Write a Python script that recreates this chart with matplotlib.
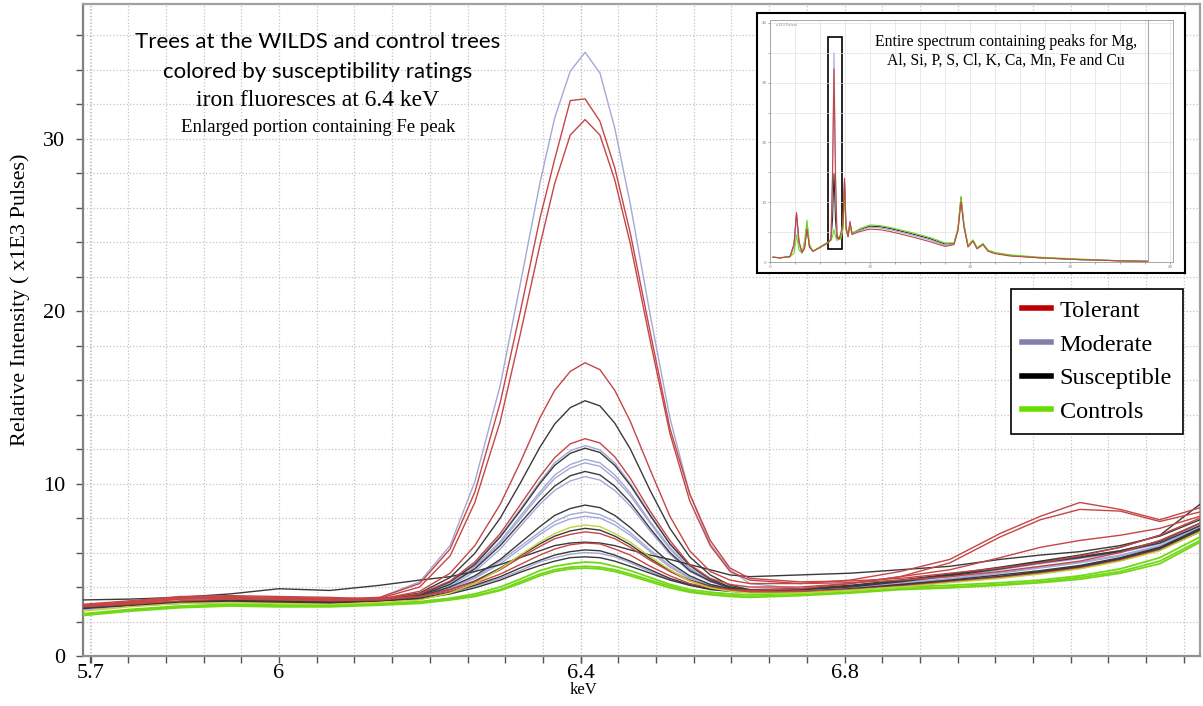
import numpy as np
import matplotlib
matplotlib.use("Agg")
import matplotlib.pyplot as plt
from matplotlib.lines import Line2D
from matplotlib.patches import Rectangle
from matplotlib.ticker import MultipleLocator, FixedLocator

# energy grid of the enlarged view (keV, as the axis labels read it)
kev = [5.723, 5.789, 5.860, 5.931, 6.000, 6.072, 6.143, 6.199, 6.242, 6.277,
       6.313, 6.341, 6.369, 6.390, 6.412, 6.433, 6.454, 6.475, 6.497, 6.525,
       6.553, 6.581, 6.610, 6.638, 6.666, 6.737, 6.808, 6.879, 6.949, 7.020,
       7.077, 7.133, 7.190, 7.246, 7.303]

# Tolerant trees (x1E3 pulses)
tol_1 = [2.95, 3.1, 3.35, 3.4, 3.35, 3.3, 3.4, 4.2, 6.2, 9.5, 14.7, 19.9, 25.35, 28.8, 32.2, 32.3, 31.0, 28.3, 24.5,
         18.8, 13.2, 9.4, 6.7, 5.1, 4.5, 4.3, 4.35, 4.5, 4.8, 5.1, 5.4, 5.8, 6.3, 7.0, 8.0]
tol_2 = [2.9, 3.05, 3.3, 3.35, 3.3, 3.25, 3.35, 4.0, 5.8, 8.9, 13.6, 18.6, 23.8, 27.4, 30.2, 31.1, 30.2, 27.6, 23.9,
         18.3, 12.9, 9.0, 6.4, 4.9, 4.4, 4.2, 4.25, 4.4, 4.6, 4.9, 5.2, 5.5, 6.0, 6.7, 7.7]
tol_3 = [2.95, 3.15, 3.4, 3.45, 3.4, 3.35, 3.3, 3.75, 4.8, 6.4, 8.8, 11.2, 13.8, 15.4, 16.5, 17.0, 16.6, 15.4, 13.6,
         10.8, 8.1, 6.1, 4.9, 4.4, 4.2, 4.2, 4.4, 4.9, 5.6, 7.1, 8.1, 8.9, 8.5, 7.9, 8.6]
tol_4 = [3.0, 3.2, 3.45, 3.5, 3.45, 3.4, 3.3, 3.6, 4.35, 5.45, 7.1, 8.75, 10.4, 11.5, 12.3, 12.6, 12.35, 11.55, 10.3,
         8.4, 6.7, 5.3, 4.5, 4.15, 4.0, 4.0, 4.2, 4.6, 5.4, 6.9, 7.9, 8.5, 8.4, 7.8, 8.35]
tol_5 = [2.9, 3.05, 3.3, 3.35, 3.3, 3.3, 3.3, 3.45, 3.85, 4.3, 5.0, 5.7, 6.35, 6.8, 7.05, 7.2, 7.1, 6.8, 6.3,
         5.55, 4.9, 4.35, 4.0, 3.85, 3.8, 3.9, 4.2, 4.6, 5.0, 5.7, 6.3, 6.7, 7.0, 7.4, 8.1]
tol_6 = [2.85, 3.0, 3.2, 3.3, 3.25, 3.2, 3.25, 3.45, 3.75, 4.2, 4.75, 5.3, 5.85, 6.2, 6.45, 6.55, 6.5, 6.2, 5.85,
         5.2, 4.65, 4.2, 3.95, 3.8, 3.75, 3.75, 3.85, 4.05, 4.3, 4.55, 4.8, 5.1, 5.55, 6.15, 7.2]

# Moderate trees
mod_1 = [2.8, 3.0, 3.15, 3.2, 3.15, 3.15, 3.4, 4.3, 6.4, 10.1, 15.7, 21.5, 27.4, 31.2, 33.9, 35.0, 33.8, 30.6, 26.2,
         19.8, 13.8, 9.4, 6.5, 5.0, 4.2, 3.9, 4.05, 4.35, 4.7, 5.1, 5.45, 5.75, 6.1, 6.6, 7.6]
mod_2 = [2.75, 2.95, 3.1, 3.15, 3.1, 3.1, 3.3, 3.55, 4.3, 5.35, 6.95, 8.5, 10.1, 11.2, 11.9, 12.2, 11.95, 11.2, 10.0,
         8.2, 6.5, 5.25, 4.45, 4.0, 3.8, 3.85, 4.0, 4.3, 4.65, 5.05, 5.4, 5.7, 6.05, 6.55, 7.5]
mod_3 = [2.8, 2.95, 3.1, 3.2, 3.15, 3.1, 3.3, 3.55, 4.2, 5.2, 6.65, 8.1, 9.5, 10.5, 11.1, 11.4, 11.2, 10.5, 9.45,
         7.8, 6.3, 5.1, 4.4, 4.0, 3.8, 3.8, 3.95, 4.25, 4.6, 5.0, 5.35, 5.65, 6.0, 6.5, 7.45]
mod_4 = [2.75, 2.9, 3.05, 3.15, 3.1, 3.1, 3.25, 3.5, 4.15, 5.1, 6.55, 7.95, 9.35, 10.3, 10.9, 11.2, 11.0, 10.3, 9.3,
         7.7, 6.2, 5.05, 4.35, 3.95, 3.8, 3.75, 3.9, 4.1, 4.4, 4.65, 4.9, 5.2, 5.65, 6.25, 7.3]
mod_5 = [2.8, 3.0, 3.1, 3.2, 3.15, 3.15, 3.25, 3.45, 4.05, 4.9, 6.2, 7.5, 8.8, 9.6, 10.15, 10.4, 10.2, 9.6, 8.7,
         7.25, 5.9, 4.9, 4.3, 3.95, 3.8, 3.85, 4.0, 4.3, 4.7, 5.1, 5.45, 5.75, 6.1, 6.6, 7.6]
mod_6 = [2.7, 2.9, 3.05, 3.1, 3.05, 3.05, 3.25, 3.4, 3.95, 4.55, 5.5, 6.35, 7.2, 7.8, 8.2, 8.35, 8.2, 7.8, 7.15,
         6.15, 5.25, 4.55, 4.15, 3.9, 3.8, 3.8, 3.95, 4.2, 4.5, 4.85, 5.15, 5.45, 5.85, 6.4, 7.4]
mod_7 = [2.75, 2.9, 3.05, 3.15, 3.1, 3.1, 3.2, 3.4, 3.9, 4.5, 5.35, 6.2, 7.05, 7.6, 7.95, 8.1, 8.0, 7.6, 7.0,
         6.05, 5.15, 4.5, 4.1, 3.85, 3.75, 3.75, 3.9, 4.15, 4.45, 4.8, 5.1, 5.4, 5.8, 6.35, 7.35]
mod_8 = [2.7, 2.9, 3.05, 3.1, 3.1, 3.05, 3.2, 3.35, 3.65, 4.05, 4.5, 4.95, 5.45, 5.7, 5.9, 6.0, 5.95, 5.75, 5.4,
         4.9, 4.45, 4.1, 3.9, 3.75, 3.7, 3.7, 3.85, 4.05, 4.3, 4.6, 4.85, 5.15, 5.6, 6.2, 7.25]

# Susceptible trees
sus_1 = [2.8, 3.0, 3.15, 3.2, 3.15, 3.15, 3.3, 3.65, 4.55, 5.95, 8.0, 10.0, 12.1, 13.45, 14.4, 14.8, 14.5, 13.5, 12.0,
         9.6, 7.4, 5.75, 4.7, 4.1, 3.85, 3.9, 4.1, 4.4, 4.75, 5.15, 5.5, 5.85, 6.3, 7.0, 8.8]
sus_2 = [2.85, 3.0, 3.15, 3.25, 3.2, 3.15, 3.3, 3.55, 4.3, 5.3, 6.9, 8.4, 10.0, 11.05, 11.75, 12.05, 11.8, 11.05, 9.9,
         8.15, 6.5, 5.25, 4.45, 4.0, 3.8, 3.85, 4.05, 4.35, 4.7, 5.1, 5.45, 5.75, 6.1, 6.65, 7.7]
sus_3 = [2.8, 2.95, 3.1, 3.2, 3.15, 3.1, 3.25, 3.5, 4.15, 5.05, 6.4, 7.7, 9.0, 9.85, 10.45, 10.7, 10.5, 9.85, 8.9,
         7.4, 6.0, 4.95, 4.35, 3.95, 3.8, 3.85, 4.0, 4.3, 4.65, 5.05, 5.4, 5.7, 6.05, 6.55, 7.55]
sus_4 = [2.85, 3.0, 3.15, 3.2, 3.2, 3.15, 3.25, 3.45, 4.0, 4.65, 5.6, 6.55, 7.5, 8.15, 8.55, 8.75, 8.6, 8.15, 7.45,
         6.4, 5.4, 4.65, 4.15, 3.9, 3.8, 3.75, 3.9, 4.15, 4.4, 4.7, 4.95, 5.25, 5.7, 6.3, 7.4]
sus_5 = [2.8, 2.95, 3.1, 3.15, 3.15, 3.1, 3.25, 3.45, 3.85, 4.35, 5.1, 5.8, 6.5, 6.95, 7.25, 7.4, 7.3, 6.95, 6.45,
         5.65, 4.95, 4.4, 4.05, 3.85, 3.75, 3.7, 3.85, 4.1, 4.35, 4.6, 4.85, 5.15, 5.6, 6.2, 7.3]
sus_6 = [3.25, 3.3, 3.4, 3.6, 3.9, 3.8, 4.1, 4.4, 4.6, 4.9, 5.3, 5.7, 6.1, 6.4, 6.55, 6.6, 6.55, 6.4, 6.15,
         5.85, 5.6, 5.3, 5.0, 4.7, 4.6, 4.7, 4.8, 5.0, 5.2, 5.6, 5.85, 6.05, 6.4, 6.95, 7.9]
sus_7 = [2.75, 2.95, 3.1, 3.15, 3.1, 3.1, 3.2, 3.35, 3.7, 4.1, 4.6, 5.1, 5.55, 5.85, 6.05, 6.15, 6.1, 5.85, 5.5,
         5.0, 4.5, 4.15, 3.9, 3.8, 3.7, 3.7, 3.85, 4.05, 4.3, 4.55, 4.8, 5.1, 5.55, 6.15, 7.2]
sus_8 = [2.8, 2.95, 3.1, 3.15, 3.1, 3.05, 3.2, 3.3, 3.6, 3.95, 4.4, 4.85, 5.25, 5.5, 5.7, 5.75, 5.7, 5.5, 5.2,
         4.8, 4.4, 4.1, 3.85, 3.75, 3.7, 3.7, 3.85, 4.05, 4.3, 4.6, 4.9, 5.2, 5.65, 6.25, 7.35]

# Control trees
con_1 = [2.6, 2.85, 3.05, 3.1, 3.05, 3.0, 3.1, 3.25, 3.65, 4.2, 5.05, 5.85, 6.6, 7.1, 7.45, 7.6, 7.5, 7.1, 6.6,
         5.75, 5.0, 4.35, 3.95, 3.75, 3.65, 3.65, 3.8, 4.0, 4.25, 4.5, 4.75, 5.05, 5.5, 6.1, 7.2]
con_2 = [2.45, 2.7, 2.9, 3.0, 2.95, 2.95, 3.05, 3.15, 3.35, 3.6, 4.0, 4.45, 4.95, 5.2, 5.35, 5.45, 5.4, 5.2, 4.95,
         4.55, 4.15, 3.85, 3.7, 3.6, 3.55, 3.65, 3.8, 4.0, 4.1, 4.25, 4.4, 4.65, 5.05, 5.7, 6.9]
con_3 = [2.4, 2.65, 2.85, 2.95, 2.9, 2.9, 3.0, 3.1, 3.3, 3.5, 3.85, 4.3, 4.75, 5.0, 5.15, 5.2, 5.15, 5.0, 4.75,
         4.4, 4.05, 3.75, 3.6, 3.5, 3.45, 3.55, 3.7, 3.9, 4.0, 4.15, 4.3, 4.55, 4.9, 5.5, 6.7]
con_4 = [2.35, 2.6, 2.8, 2.9, 2.85, 2.85, 2.95, 3.05, 3.25, 3.45, 3.8, 4.2, 4.65, 4.9, 5.05, 5.1, 5.05, 4.9, 4.65,
         4.3, 3.95, 3.7, 3.55, 3.45, 3.4, 3.5, 3.65, 3.85, 3.95, 4.1, 4.25, 4.45, 4.8, 5.35, 6.6]

tolerant = [tol_1, tol_2, tol_3, tol_4, tol_5, tol_6]
moderate = [mod_1, mod_2, mod_3, mod_4, mod_5, mod_6, mod_7, mod_8]
susceptible = [sus_1, sus_2, sus_3, sus_4, sus_5, sus_6, sus_7, sus_8]
controls = [con_2, con_3, con_4]
controls_yellow = [con_1]

# axis labels as printed
xtick_pos = [5.733, 6.0, 6.427, 6.8]
xtick_labels = ["5.7", "6", "6.4", "6.8"]
ytick_pos = [0, 10, 20, 30]

# whole spectrum shown in the inset (keV, x1E3 pulses)
in_kev = [0.3, 1.0, 2.0, 2.4, 2.65, 2.9, 3.2, 3.45, 3.7, 3.95, 4.3, 5.0, 5.8, 6.1, 6.25, 6.4, 6.55, 6.7,
          6.9, 7.1, 7.3, 7.45, 7.6, 7.8, 8.0, 8.2, 8.5, 9.0, 10.0, 11.0, 12.0, 14.0, 16.0, 17.5, 18.4,
          18.8, 19.1, 19.4, 19.8, 20.3, 20.7, 21.3, 21.8, 22.5, 24.0, 27.0, 31.0, 35.0, 37.8]
in_tol = [0.8, 0.7, 0.9, 3.0, 8.3, 3.5, 1.6, 2.2, 5.5, 2.5, 1.8, 2.4, 3.2, 3.8, 14.0, 32.3, 14.0, 4.5,
          3.8, 5.0, 6.5, 14.0, 6.0, 4.2, 6.8, 4.6, 4.8, 5.1, 5.5, 5.4, 5.1, 4.3, 3.4, 2.6, 2.9,
          5.3, 10.1, 5.8, 2.5, 3.5, 2.2, 2.9, 1.8, 1.4, 1.0, 0.7, 0.4, 0.2, 0.1]
in_mod = [0.8, 0.7, 0.9, 2.5, 7.5, 3.0, 1.5, 2.5, 6.5, 2.6, 1.8, 2.5, 3.3, 3.8, 15.0, 35.0, 15.0, 4.5,
          3.9, 4.5, 6.5, 13.0, 5.8, 4.3, 6.5, 4.7, 4.9, 5.3, 5.8, 5.7, 5.4, 4.6, 3.7, 2.8, 3.0,
          5.4, 10.5, 6.0, 2.6, 3.6, 2.3, 3.0, 1.9, 1.5, 1.1, 0.7, 0.4, 0.2, 0.1]
in_sus = [0.8, 0.7, 0.9, 2.8, 8.0, 3.2, 1.6, 2.4, 6.0, 2.5, 1.8, 2.5, 3.3, 3.8, 7.0, 14.8, 7.0, 4.0,
          3.9, 4.2, 6.0, 13.5, 5.6, 4.3, 6.5, 4.8, 5.0, 5.4, 6.0, 5.9, 5.6, 4.8, 3.9, 3.0, 3.1,
          5.5, 10.8, 6.1, 2.7, 3.6, 2.3, 3.0, 1.9, 1.5, 1.1, 0.7, 0.4, 0.2, 0.1]
in_con = [0.8, 0.7, 0.9, 1.5, 4.5, 2.0, 1.5, 3.5, 7.0, 3.0, 1.8, 2.5, 3.2, 3.6, 4.3, 5.4, 4.3, 3.6,
          3.8, 3.9, 5.5, 11.5, 5.3, 4.4, 6.0, 4.9, 5.1, 5.6, 6.2, 6.1, 5.8, 5.0, 4.1, 3.2, 3.2,
          5.7, 11.0, 6.2, 2.8, 3.7, 2.4, 3.1, 2.0, 1.6, 1.2, 0.8, 0.5, 0.2, 0.1]

W, H = 1203, 706
fig = plt.figure(figsize=(W / 100, H / 100), dpi=100)
serif = "Liberation Serif"

ax = fig.add_axes([83 / W, 1 - 656 / H, 1117 / W, 652 / H])
ax.set_xlim(5.7227, 7.3029)
ax.set_ylim(0, 37.8)

for c in moderate:
    ax.plot(kev, c, color="#a3a9d6", lw=1.0, zorder=3)
for c in susceptible:
    ax.plot(kev, c, color="#3a3a3a", lw=1.0, zorder=3)
for c in tolerant:
    ax.plot(kev, c, color="#c64545", lw=1.0, zorder=4)
for c in controls:
    ax.plot(kev, c, color="#72d816", lw=1.3, zorder=4)
for c in controls_yellow:
    ax.plot(kev, c, color="#c3d23a", lw=1.0, zorder=4)

step = 0.8 / 15
ax.xaxis.set_major_locator(FixedLocator(xtick_pos))
ax.xaxis.set_minor_locator(FixedLocator(6.0 + step * np.arange(-5, 25)))
ax.set_xticklabels(xtick_labels, fontfamily=serif, fontsize=16)
ax.yaxis.set_major_locator(FixedLocator(ytick_pos))
ax.yaxis.set_minor_locator(MultipleLocator(2))
ax.set_yticklabels([str(v) for v in ytick_pos], fontfamily=serif, fontsize=16)
ax.tick_params(which="both", direction="out", color="#555555", width=1.0)
ax.tick_params(axis="x", which="both", length=5, pad=1)
ax.tick_params(axis="y", which="both", length=5, pad=8)
ax.grid(which="both", ls=":", color="#c4c4c4", lw=0.9, zorder=0)
for s in ax.spines.values():
    s.set_color("#a0a0a0")
    s.set_linewidth(1.6)
ax.spines["left"].set_color("#808080")
ax.spines["bottom"].set_color("#909090")

fig.text(20 / W, 1 - 300 / H, "Relative Intensity ( x1E3 Pulses)", rotation=90,
         ha="center", va="center", fontfamily=serif, fontsize=16)
fig.text(583 / W, 1 - 690 / H, "keV", ha="center", va="center",
         fontfamily=serif, fontsize=12)

# annotation text
fig.text(318 / W, 1 - 42 / H, "Trees at the WILDS and control trees", ha="center",
         va="center", fontfamily="Lato", fontsize=16)
fig.text(318 / W, 1 - 72 / H, "colored by susceptibility ratings", ha="center",
         va="center", fontfamily="Lato", fontsize=16)
fig.text(318 / W, 1 - 100 / H, "iron fluoresces at 6.4 keV", ha="center",
         va="center", fontfamily=serif, fontsize=17)
fig.text(318 / W, 1 - 127 / H, "Enlarged portion containing Fe peak", ha="center",
         va="center", fontfamily=serif, fontsize=13.5)

# legend
handles = [Line2D([], [], color="#c00000", lw=4),
           Line2D([], [], color="#8080a8", lw=4),
           Line2D([], [], color="#000000", lw=4),
           Line2D([], [], color="#66dd00", lw=4)]
leg = ax.legend(handles, ["Tolerant", "Moderate", "Susceptible", "Controls"],
                loc="upper left", bbox_to_anchor=(1011 / W, 1 - 289 / H),
                bbox_transform=fig.transFigure, borderaxespad=0,
                prop={"family": serif, "size": 17.5}, frameon=True, fancybox=False,
                framealpha=1, edgecolor="black", handlelength=1.2,
                handletextpad=0.35, labelspacing=0.48, borderpad=0.45)
leg.get_frame().set_linewidth(1.2)
leg.set_zorder(10)

# inset with the whole spectrum
box = fig.add_axes([757 / W, 1 - 273 / H, 428 / W, 260 / H], zorder=5)
box.set_xticks([])
box.set_yticks([])
for s in box.spines.values():
    s.set_color("black")
    s.set_linewidth(1.5)

ins = fig.add_axes([770 / W, 1 - 262 / H, 403 / W, 242 / H], zorder=6)
ins.set_xlim(0, 40.3)
ins.set_ylim(0, 40.5)
ins.plot(in_kev, in_sus, color="#333333", lw=0.8)
ins.plot(in_kev, in_mod, color="#a3a9d6", lw=0.8)
ins.plot(in_kev, in_con, color="#72d816", lw=0.8)
ins.plot(in_kev, in_tol, color="#c64545", lw=0.8)
ins.axvline(37.8, color="#aaaaaa", lw=0.8)
ins.add_patch(Rectangle((5.75, 2.2), 1.4, 35.4, fill=False, edgecolor="black", lw=1.2))
ins.set_xticks([0, 10, 20, 30, 40])
ins.set_yticks([0, 10, 20, 30, 40])
ins.xaxis.set_minor_locator(MultipleLocator(2.5))
ins.yaxis.set_minor_locator(MultipleLocator(5))
ins.tick_params(which="both", length=1.5, width=0.5, labelsize=3, color="#888888",
                labelcolor="#888888", pad=1)
ins.grid(which="both", color="#e2e2e2", lw=0.5)
for s in ins.spines.values():
    s.set_color("#999999")
    s.set_linewidth(0.6)
ins.text(0.6, 40.0, "x1E3 Pulses", fontsize=2.5, color="#888888", va="top")
ins.text(0.585, 0.87, "Entire spectrum containing peaks for Mg,\nAl, Si, P, S, Cl, K, Ca, Mn, Fe and Cu",
         transform=ins.transAxes, ha="center", va="center", fontfamily=serif,
         fontsize=11.3, linespacing=1.25)

fig.savefig("out.png", dpi=100)
